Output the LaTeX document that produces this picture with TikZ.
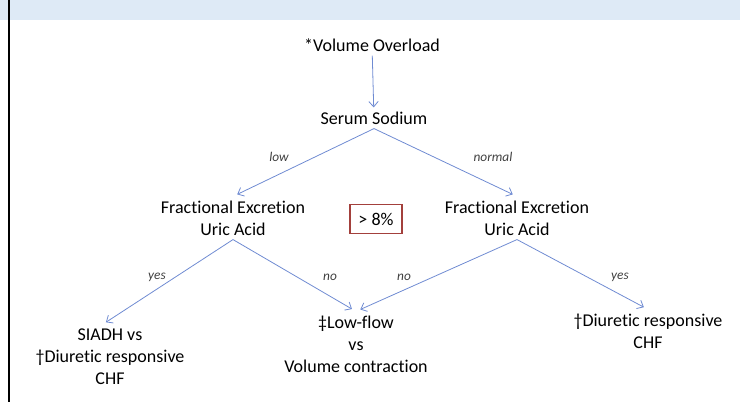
\documentclass[tikz,border=0pt]{standalone}
\usepackage{fontspec}
\setmainfont{Carlito}[Ligatures=NoCommon]
\usetikzlibrary{arrows.meta}
\definecolor{bandblue}{HTML}{DEEAF6}
\definecolor{linkblue}{HTML}{6F8BD2}
\definecolor{boxred}{HTML}{A3403C}
\definecolor{lblgray}{HTML}{404040}
\tikzset{
  step_n/.style = {align=center, inner sep=3pt, font=\fontsize{13.5}{16.5}\selectfont},% noeud de decision
  lbl/.style = {inner sep=0pt, text=lblgray, font=\fontsize{10}{12}\selectfont\itshape},% etiquette de branche
  cut/.style = {draw=boxred, line width=0.9pt, minimum width=39pt,
    minimum height=22pt, inner sep=0pt, font=\fontsize{13.5}{16}\selectfont},% seuil
  link/.style = {draw=linkblue, line width=0.6pt, -{Straight Barb[length=4pt,width=7pt]}},
  branch/.style = {link, shorten >=3.5pt}
}
\begin{document}
\begin{tikzpicture}[x=0.75pt,y=-0.75pt]
\useasboundingbox (0,0) rectangle (740,402);
\fill[bandblue] (0,0) rectangle (740,20);
\draw[line width=1.5pt] (9,0) -- (9,402);

\node [step_n] (vol) at (372,45) {*Volume Overload};
\node [step_n] (na) at (374,118) {Serum Sodium};
\node [step_n] (feL) at (233,218) {Fractional Excretion\\Uric Acid};
\node [step_n] (feR) at (517,218) {Fractional Excretion\\Uric Acid};
\node [cut] (cut) at (376,219) {> 8\%};
\node [step_n] (siadh) at (110,357) {SIADH vs\\\textdagger Diuretic responsive\\CHF};
\node [step_n] (low) at (356,344) {\textdaggerdbl Low-flow\\vs\\Volume contraction};
\node [step_n] (chf) at (648,331) {\textdagger Diuretic responsive\\CHF};

\draw[link] (vol) -- (na);
\draw[branch] (na.south) -- (feL.north);
\draw[branch] (na.south) -- (feR.north);
\draw[branch] (feL.south) -- ([xshift=-6pt]siadh.north);
\draw[branch] (feL.south) -- (low.north);
\draw[branch] (feR.south) -- (low.north);
\draw[branch] (feR.south) -- (chf.north);

\node [lbl] (lowlbl) at (279,157) {low};
\node [lbl] (normlbl) at (493,157) {normal};
\node [lbl] (yesL) at (157,277) {yes};
\node [lbl] (noL) at (330,277) {no};
\node [lbl] (noR) at (404,277) {no};
\node [lbl] (yesR) at (620,277) {yes};
\end{tikzpicture}
\end{document}
